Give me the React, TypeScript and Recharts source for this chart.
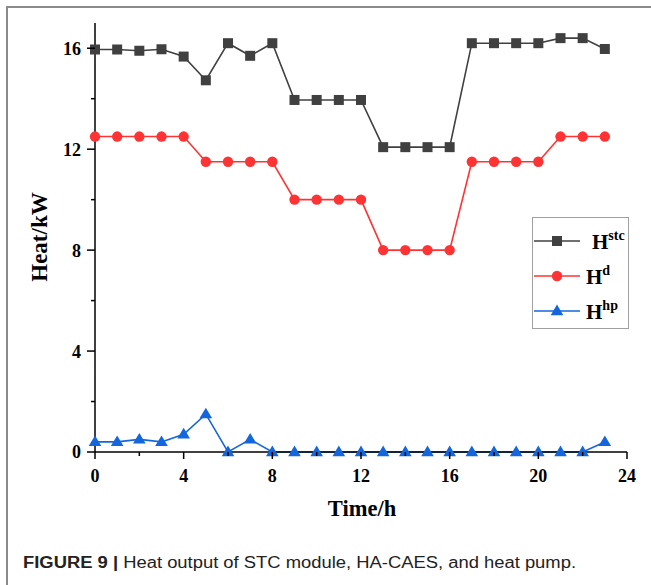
import React from 'react';
import { LineChart, Line, XAxis, YAxis, Label } from 'recharts';

const hours = [0, 1, 2, 3, 4, 5, 6, 7, 8, 9, 10, 11, 12, 13, 14, 15, 16, 17, 18, 19, 20, 21, 22, 23];
const hStc = [15.95, 15.95, 15.9, 15.96, 15.67, 14.73, 16.2, 15.7, 16.2, 13.95, 13.95, 13.95, 13.95, 12.08, 12.08, 12.08, 12.08, 16.2, 16.2, 16.2, 16.2, 16.4, 16.4, 15.97];
const hD = [12.5, 12.5, 12.5, 12.5, 12.5, 11.5, 11.5, 11.5, 11.5, 10, 10, 10, 10, 8, 8, 8, 8, 11.5, 11.5, 11.5, 11.5, 12.5, 12.5, 12.5];
const hHp = [0.4, 0.4, 0.5, 0.4, 0.7, 1.5, 0, 0.5, 0, 0, 0, 0, 0, 0, 0, 0, 0, 0, 0, 0, 0, 0, 0, 0.4];

const yTicks = [0, 2, 4, 6, 8, 10, 12, 14, 16];
const xTicks = [0, 2, 4, 6, 8, 10, 12, 14, 16, 18, 20, 22, 24];
const seriesKeys = ['stc', 'd', 'hp'];
const legendBase = ['H', 'H', 'H'];
const legendSup = ['stc', 'd', 'hp'];
const colors = ['#404040', '#ff3333', '#1466dc'];
const captionBold = 'FIGURE 9 | ';
const captionText = 'Heat output of STC module, HA-CAES, and heat pump.';
const xLabel = 'Time/h';
const yLabel = 'Heat/kW';

const data = hours.map((h, i) => ({ t: h, stc: hStc[i], d: hD[i], hp: hHp[i] }));

const SERIF = '"Liberation Serif", "Times New Roman", serif';

const renderMarker = (k: string, cx: number, cy: number, color: string, key?: string) => {
  if (k === 'stc') return <rect key={key} x={cx - 5} y={cy - 5} width={10} height={10} fill={color} />;
  if (k === 'd') return <circle key={key} cx={cx} cy={cy} r={5.2} fill={color} />;
  return <polygon key={key} points={`${cx},${cy - 6.5} ${cx - 6.3},${cy + 4.2} ${cx + 6.3},${cy + 4.2}`} fill={color} />;
};

const makeDot = (k: string, color: string) => (props: any) => {
  const { cx, cy, index } = props;
  if (cx == null || cy == null) return <g key={`${k}-${index}`} />;
  return renderMarker(k, cx, cy, color, `${k}-${index}`);
};

const YTick = (props: any) => {
  const { x, y, payload } = props;
  const major = payload.value % 4 === 0;
  return (
    <g>
      <line x1={x - (major ? 8 : 4)} x2={x} y1={y} y2={y} stroke="#000" strokeWidth={1.5} />
      {major && (
        <text x={x - 14} y={y} dy="0.36em" textAnchor="end" fontFamily={SERIF} fontWeight="bold" fontSize={18} fill="#000">
          {payload.value}
        </text>
      )}
    </g>
  );
};

const XTick = (props: any) => {
  const { x, y, payload } = props;
  const major = payload.value % 4 === 0;
  return (
    <g>
      <line x1={x} x2={x} y1={y} y2={y + (major ? 7 : 4)} stroke="#000" strokeWidth={1.5} />
      {major && (
        <text x={x} y={y + 30} textAnchor="middle" fontFamily={SERIF} fontWeight="bold" fontSize={18} fill="#000">
          {payload.value}
        </text>
      )}
    </g>
  );
};

export default function App() {
  return (
    <div style={{ position: 'absolute', left: 0, top: 0, width: 651, height: 585, background: '#fff', overflow: 'hidden' }}>
      <div style={{ position: 'absolute', left: 6, top: 6, width: 700, height: 700, borderLeft: '2px solid #8a8a8a', borderTop: '2px solid #8a8a8a' }} />
      <div style={{ position: 'absolute', left: 0, top: 0 }}>
        <LineChart width={651} height={585} data={data} margin={{ top: 23, right: 24, bottom: 0, left: 0 }}>
          <XAxis
            dataKey="t"
            type="number"
            domain={[0, 24]}
            ticks={xTicks}
            height={133}
            tickSize={0}
            tickMargin={0}
            tickLine={false}
            tick={<XTick />}
            axisLine={{ stroke: '#000', strokeWidth: 1.5 }}
            interval={0}
          >
            <Label
              content={() => (
                <text x={362} y={516} textAnchor="middle" fontFamily={SERIF} fontWeight="bold" fontSize={22.5} fill="#000">
                  {xLabel}
                </text>
              )}
            />
          </XAxis>
          <YAxis
            type="number"
            domain={[0, 17]}
            ticks={yTicks}
            width={95}
            tickSize={0}
            tickMargin={0}
            tickLine={false}
            tick={<YTick />}
            axisLine={{ stroke: '#000', strokeWidth: 1.5 }}
            interval={0}
          >
            <Label
              content={() => (
                <text x={47} y={237} transform="rotate(-90 47 237)" textAnchor="middle" fontFamily={SERIF} fontWeight="bold" fontSize={23} fill="#000">
                  {yLabel}
                </text>
              )}
            />
          </YAxis>
          {seriesKeys.map((k, i) => (
            <Line
              key={k}
              dataKey={k}
              type="linear"
              stroke={colors[i]}
              strokeWidth={1.6}
              dot={makeDot(k, colors[i])}
              activeDot={false}
              isAnimationActive={false}
            />
          ))}
        </LineChart>
      </div>
      <svg style={{ position: 'absolute', left: 532, top: 217 }} width={97} height={112}>
        <rect x={0.5} y={0.5} width={96} height={111} fill="#fff" stroke="#a0a0a0" strokeWidth={1} />
        {seriesKeys.map((k, i) => {
          const yy = 24 + i * 35;
          return (
            <g key={k}>
              <line x1={2} x2={48} y1={yy} y2={yy} stroke={colors[i]} strokeWidth={1.6} />
              {renderMarker(k, 25, yy, colors[i])}
              <text x={i === 0 ? 60 : 54} y={yy + 8} fontFamily={SERIF} fontWeight="bold" fontSize={21} fill="#000">
                {legendBase[i]}
                <tspan fontSize={14} dy={-9}>{legendSup[i]}</tspan>
              </text>
            </g>
          );
        })}
      </svg>
      <svg style={{ position: 'absolute', left: 0, top: 540 }} width={651} height={45}>
        <text x={23} y={28} fontFamily='"Liberation Sans", Arial, sans-serif' fontSize={16} fill="#222" textLength={553} lengthAdjust="spacingAndGlyphs">
          <tspan fontWeight="bold">{captionBold}</tspan>
          <tspan>{captionText}</tspan>
        </text>
      </svg>
    </div>
  );
}
